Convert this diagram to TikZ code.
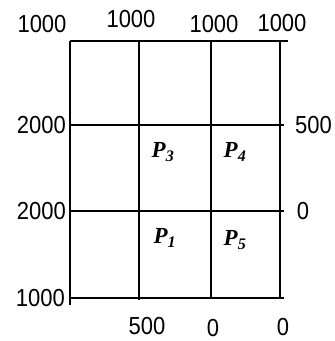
\documentclass[tikz,border=0pt]{standalone}
\usepackage{fontspec}
\setmainfont{Liberation Serif}
\newfontfamily\numfont{Liberation Sans}
\newcommand{\tallnum}[1]{\scalebox{1}[1.12]{#1}}

\begin{document}
\begin{tikzpicture}[
  x=1pt, y=-1pt,
  wall/.style={line width=1.4pt, draw=black},
  num/.style={font=\fontsize{22}{26}\selectfont\numfont, inner sep=0pt},
  plot/.style={font=\fontsize{23}{26}\selectfont\bfseries\itshape, inner sep=0pt},
]
\useasboundingbox (0,0) rectangle (335,341);

% ---------------- GRID (pixel grid, y down) ----------------
% horizontal walls
\draw[wall] (70,41) -- (288,41);
\draw[wall] (70,125) -- (284,125);
\draw[wall] (70,211) -- (284,211);
\draw[wall] (70,298) -- (284,298);
% vertical walls
\draw[wall] (70,41) -- (70,305);
\draw[wall] (139,41) -- (139,300);
\draw[wall] (211,41) -- (211,298);
\draw[wall] (280,41) -- (280,298);

% ---------------- TOP VALUES ----------------
\node[num] (top1) at (42,24) {\tallnum{1000}};
\node[num] (top2) at (131,19) {\tallnum{1000}};
\node[num] (top3) at (214,24) {\tallnum{1000}};
\node[num] (top4) at (282,23) {\tallnum{1000}};

% ---------------- LEFT / RIGHT VALUES ----------------
\node[num, anchor=east] (left1) at (66,125) {\tallnum{2000}};
\node[num, anchor=east] (left2) at (66,211) {\tallnum{2000}};
\node[num, anchor=east] (left3) at (65,298) {\tallnum{1000}};
\node[num, anchor=west] (right1) at (295,125) {\tallnum{500}};
\node[num] (right2) at (303,211) {\tallnum{0}};

% ---------------- BOTTOM VALUES ----------------
\node[num] (bot1) at (147,326) {\tallnum{500}};
\node[num] (bot2) at (213,328) {\tallnum{0}};
\node[num] (bot3) at (283,327) {\tallnum{0}};

% ---------------- PLOTS ----------------
\node[plot] (P3) at (163,152) {P\textsubscript{3}};
\node[plot] (P4) at (235,152) {P\textsubscript{4}};
\node[plot] (P1) at (165,238) {P\textsubscript{1}};
\node[plot] (P5) at (235,240) {P\textsubscript{5}};
\end{tikzpicture}
\end{document}
